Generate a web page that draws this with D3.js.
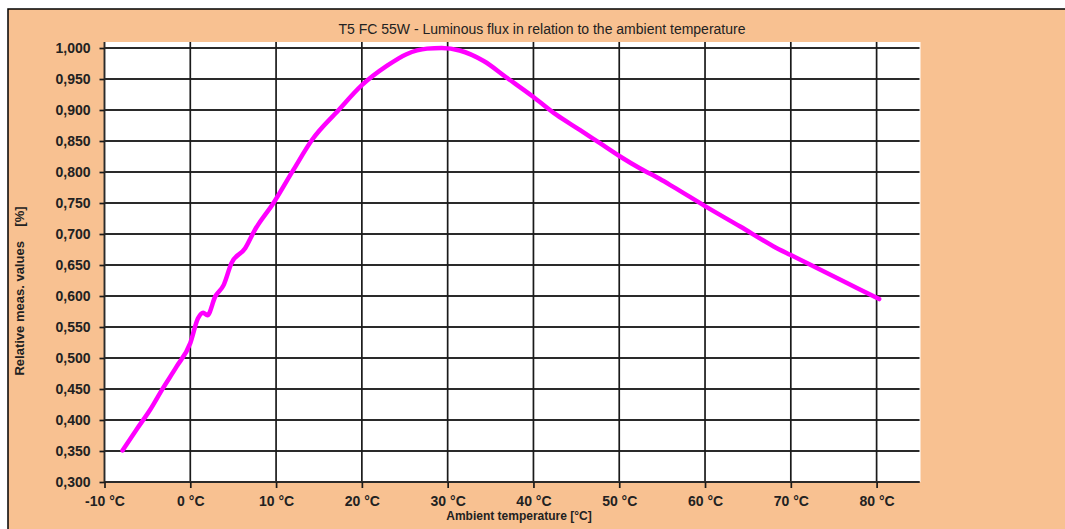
<!DOCTYPE html>
<html lang="en">

<head>
    <meta charset="UTF-8">
    <title>T5 FC 55W - Luminous flux</title>
    <style>
        body { margin: 0; background: #fff; }
        text { font-family: Arial, "Liberation Sans", sans-serif; }
    </style>
</head>

<body>
    <script src="https://cdn.jsdelivr.net/npm/d3@7"></script>
    <script>
        const chartTitle = 'T5 FC 55W - Luminous flux in relation to the ambient temperature';
        const xTitle = 'Ambient temperature [°C]';
        const yTitle = 'Relative meas. values\u00a0\u00a0\u00a0\u00a0[%]';

        const xTicks = [-10, 0, 10, 20, 30, 40, 50, 60, 70, 80];
        const yTicks = [0.30, 0.35, 0.40, 0.45, 0.50, 0.55, 0.60, 0.65, 0.70, 0.75, 0.80, 0.85, 0.90, 0.95, 1.00];

        const temps = [-7.9, -6.3, -4.7, -3.2, -1.6, 0.0, 0.9, 1.5, 2.0, 2.9, 3.9, 4.8, 6.4, 7.5, 9.7,
            12.0, 14.2, 17.3, 20.0, 22.9, 25.2, 27.6, 29.3, 31.4, 34.2, 36.9, 40.0, 42.7, 45.4,
            47.8, 50.1, 52.4, 54.7, 56.3, 60.0, 64.1, 68.0, 70.0, 73.8, 77.7, 80.3];
        const flux = [0.351, 0.384, 0.416, 0.451, 0.486, 0.524, 0.564, 0.573, 0.569, 0.599, 0.618, 0.653, 0.677, 0.706, 0.750,
            0.803, 0.852, 0.900, 0.940, 0.971, 0.990, 0.999, 1.000, 0.996, 0.979, 0.952, 0.921, 0.892, 0.868,
            0.846, 0.825, 0.806, 0.789, 0.776, 0.745, 0.712, 0.680, 0.666, 0.640, 0.613, 0.595];

        const W = 1065, H = 529;
        const pLeft = 104.5, pRight = 919.5, pTop = 42, pBottom = 482;

        const svg = d3.select('body').append('svg')
            .attr('width', W)
            .attr('height', H);

        // peach frame
        svg.append('rect').attr('x', 8).attr('y', 9).attr('width', W + 20).attr('height', H)
            .attr('fill', '#F8C191').attr('stroke', '#000').attr('stroke-width', 1.5);

        svg.append('rect').attr('x', pLeft).attr('y', pTop)
            .attr('width', pRight - pLeft + 1).attr('height', pBottom - pTop)
            .attr('fill', '#fff');

        const x = d3.scaleLinear().domain([-10, 85]).range([pLeft, pRight]);
        const y = d3.scaleLinear().domain([0.3, 1.0]).range([pBottom, 48]);

        const loc = d3.formatLocale({ decimal: ',', thousands: '.', grouping: [3], currency: ['', ''] });
        const fmt = loc.format('.3f');

        // grid
        svg.append('g').selectAll('line').data(yTicks).join('line')
            .attr('x1', pLeft).attr('x2', pRight)
            .attr('y1', d => y(d)).attr('y2', d => y(d))
            .attr('stroke', '#2a2a2a').attr('stroke-width', 1.9);

        svg.append('g').selectAll('line').data(xTicks.slice(1)).join('line')
            .attr('x1', d => x(d)).attr('x2', d => x(d))
            .attr('y1', pTop).attr('y2', pBottom)
            .attr('stroke', '#1a1a1a').attr('stroke-width', 1.7);

        // axes
        const yAxis = svg.append('g')
            .attr('transform', `translate(${pLeft},0)`)
            .call(d3.axisLeft(y).tickValues(yTicks).tickFormat(fmt).tickSize(5).tickPadding(9));
        const xAxis = svg.append('g')
            .attr('transform', `translate(0,${pBottom})`)
            .call(d3.axisBottom(x).tickValues(xTicks).tickFormat(d => d + ' °C').tickSize(6).tickPadding(8));

        yAxis.select('.domain').attr('d', `M0,${pTop}V${pBottom}`);
        xAxis.select('.domain').attr('d', `M${pLeft},0H${pRight}`);
        [yAxis, xAxis].forEach(g => {
            g.selectAll('.domain').attr('stroke', '#2a2a2a').attr('stroke-width', 1.9);
            g.selectAll('.tick line').attr('stroke', '#1a1a1a').attr('stroke-width', 1.7);
            g.selectAll('text')
                .attr('fill', '#222')
                .style('font-size', '14px')
                .style('font-weight', 'bold')
                .style('font-family', 'Arial, "Liberation Sans", sans-serif');
        });

        // curve
        const pts = temps.map((t, i) => [t, flux[i]]);
        svg.append('path')
            .datum(pts)
            .attr('fill', 'none')
            .attr('stroke', '#FF00FF')
            .attr('stroke-width', 4.5)
            .attr('stroke-linecap', 'round')
            .attr('stroke-linejoin', 'round')
            .attr('d', d3.line().x(d => x(d[0])).y(d => y(d[1])).curve(d3.curveMonotoneX));

        // titles
        svg.append('text').attr('x', 542).attr('y', 34)
            .attr('text-anchor', 'middle').attr('fill', '#222')
            .style('font-size', '14px')
            .text(chartTitle);

        svg.append('text').attr('x', 519).attr('y', 520)
            .attr('text-anchor', 'middle').attr('fill', '#222')
            .style('font-size', '12px').style('font-weight', 'bold')
            .text(xTitle);

        svg.append('text')
            .attr('transform', 'translate(24,291) rotate(-90)')
            .attr('text-anchor', 'middle').attr('fill', '#222')
            .style('font-size', '13px').style('font-weight', 'bold')
            .text(yTitle);
    </script>
</body>

</html>
